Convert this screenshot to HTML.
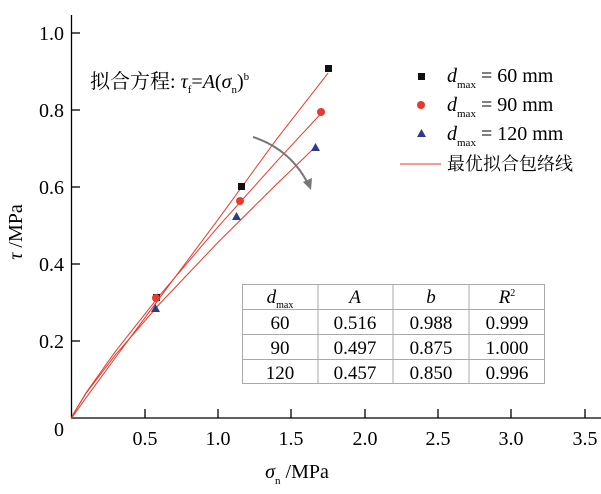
<!DOCTYPE html><html><head><meta charset="utf-8"><style>body{margin:0;background:#fff}svg{display:block;font-family:"Liberation Serif","Noto Serif CJK SC",serif}</style></head><body>
<svg width="601" height="494" viewBox="0 0 601 494">
<g stroke="#000" stroke-width="1.3" fill="none">
<line x1="71.5" y1="15" x2="71.5" y2="418"/><line x1="71" y1="418" x2="601" y2="418"/>
<line x1="71" y1="33" x2="80" y2="33"/><line x1="71" y1="110" x2="80" y2="110"/><line x1="71" y1="187" x2="80" y2="187"/><line x1="71" y1="264" x2="80" y2="264"/><line x1="71" y1="341" x2="80" y2="341"/>
<line x1="145" y1="418" x2="145" y2="409"/><line x1="218" y1="418" x2="218" y2="409"/><line x1="291" y1="418" x2="291" y2="409"/><line x1="365" y1="418" x2="365" y2="409"/><line x1="438" y1="418" x2="438" y2="409"/><line x1="511" y1="418" x2="511" y2="409"/><line x1="585" y1="418" x2="585" y2="409"/>
</g>
<g font-size="20" text-anchor="end"><text x="64" y="40">1.0</text><text x="64" y="117">0.8</text><text x="64" y="194">0.6</text><text x="64" y="271">0.4</text><text x="64" y="348">0.2</text><text x="64" y="436">0</text></g>
<g font-size="20" text-anchor="middle"><text x="145" y="445">0.5</text><text x="218" y="445">1.0</text><text x="291" y="445">1.5</text><text x="365" y="445">2.0</text><text x="438" y="445">2.5</text><text x="511" y="445">3.0</text><text x="585" y="445">3.5</text></g>
<text x="297" y="478" font-size="20" text-anchor="middle"><tspan font-style="italic">σ</tspan><tspan font-size="11" dy="6">n</tspan><tspan dy="-6"> /MPa</tspan></text>
<text transform="translate(22,232) rotate(-90)" font-size="20" text-anchor="middle"><tspan font-style="italic">τ</tspan> /MPa</text>
<text x="90" y="88" font-size="20">拟合方程: <tspan font-style="italic">τ</tspan><tspan font-size="11" dy="5">f</tspan><tspan dy="-5">=</tspan><tspan font-style="italic">A</tspan>(<tspan font-style="italic">σ</tspan><tspan font-size="11" dy="5">n</tspan><tspan dy="-5">)</tspan><tspan font-size="11" dy="-8">b</tspan></text>
<g fill="none" stroke="#e8392c" stroke-width="1">
<polyline points="71.5,418 73,415.9 86.2,397.6 115.5,357.5 159.5,298.1 218.2,219.3 276.9,138.8 328.2,72.9"/>
<polyline points="71.5,418 73,414.6 86.2,392.5 115.5,351.3 159.5,295.6 218.2,226.7 276.9,161.2 320.9,113.6"/>
<polyline points="71.5,418 73,414.5 86.2,393.1 115.5,354.7 159.5,304 218.2,242.1 276.9,183.9 316.5,145.9"/>
</g>
<g fill="#111"><rect x="153" y="294" width="7" height="7"/><rect x="238" y="183" width="7" height="7"/><rect x="325" y="65" width="7" height="7"/></g>
<g fill="#e8392c"><circle cx="156" cy="298" r="4"/><circle cx="240" cy="201" r="4"/><circle cx="321" cy="112" r="4"/></g>
<g fill="#2e3a8c"><path d="M151,312h9l-4.5,-8z"/><path d="M232,220h9l-4.5,-8z"/><path d="M311,151h9l-4.5,-8z"/></g>
<path d="M253,137 Q292,150 309,186" fill="none" stroke="#777" stroke-width="2"/>
<path d="M303,182 L311,190 L312,178z" fill="#777"/>
<rect x="418" y="73" width="7" height="7" fill="#111"/>
<circle cx="421" cy="105" r="4" fill="#e8392c"/>
<path d="M417,137h9l-4.5,-8z" fill="#2e3a8c"/>
<line x1="400" y1="164" x2="441" y2="164" stroke="#e8392c"/>
<g font-size="20">
<text x="447" y="82"><tspan font-style="italic">d</tspan><tspan font-size="11" dy="6">max</tspan><tspan dy="-6"> = 60  mm</tspan></text>
<text x="447" y="111"><tspan font-style="italic">d</tspan><tspan font-size="11" dy="6">max</tspan><tspan dy="-6"> = 90  mm</tspan></text>
<text x="447" y="140"><tspan font-style="italic">d</tspan><tspan font-size="11" dy="6">max</tspan><tspan dy="-6"> = 120 mm</tspan></text>
<text x="447" y="170" font-size="18">最优拟合包络线</text>
</g>
<g stroke="#aaa" stroke-width="1" fill="none"><rect x="242.5" y="284.5" width="302" height="99"/>
<line x1="318" y1="284" x2="318" y2="384"/><line x1="393" y1="284" x2="393" y2="384"/><line x1="469" y1="284" x2="469" y2="384"/>
<line x1="242" y1="309.5" x2="545" y2="309.5"/><line x1="242" y1="334.5" x2="545" y2="334.5"/><line x1="242" y1="359.5" x2="545" y2="359.5"/></g>
<g font-size="19" text-anchor="middle">
<text x="280" y="303"><tspan font-style="italic">d</tspan><tspan font-size="10" dy="5">max</tspan></text><text x="355" y="303" font-style="italic">A</text><text x="431" y="303" font-style="italic">b</text><text x="507" y="303"><tspan font-style="italic">R</tspan><tspan font-size="10" dy="-7">2</tspan></text>
<text x="280" y="329">60</text><text x="355" y="329">0.516</text><text x="431" y="329">0.988</text><text x="507" y="329">0.999</text>
<text x="280" y="354">90</text><text x="355" y="354">0.497</text><text x="431" y="354">0.875</text><text x="507" y="354">1.000</text>
<text x="280" y="379">120</text><text x="355" y="379">0.457</text><text x="431" y="379">0.850</text><text x="507" y="379">0.996</text>
</g>
</svg></body></html>
